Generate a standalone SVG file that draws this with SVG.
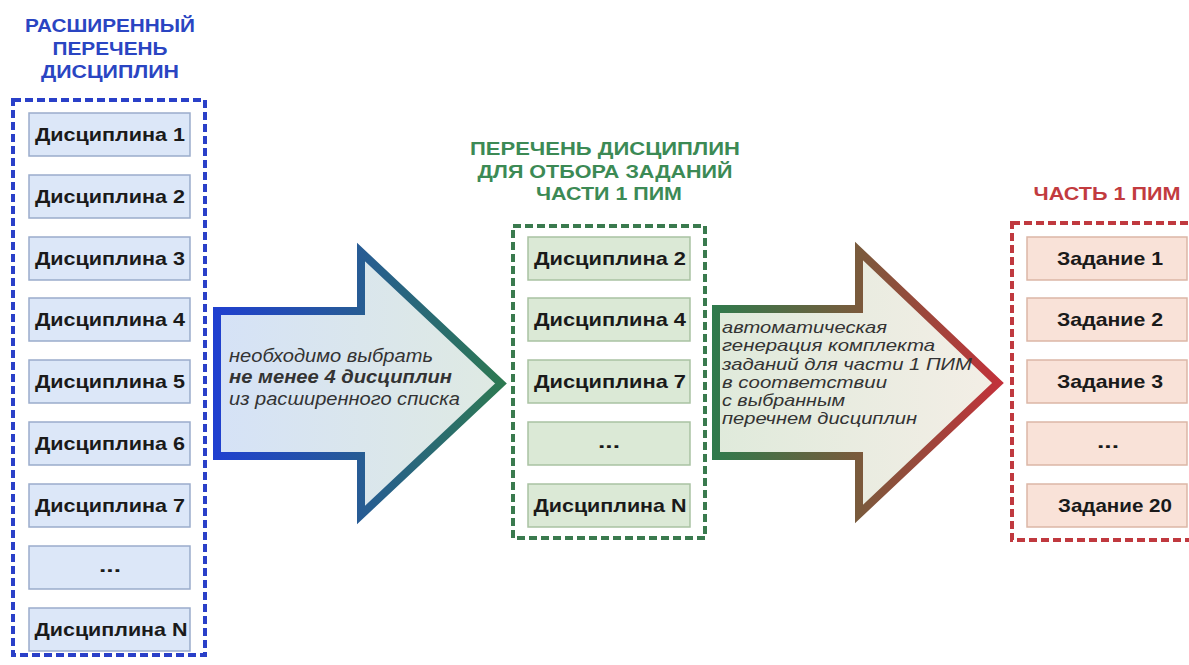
<svg xmlns="http://www.w3.org/2000/svg" width="1189" height="665" viewBox="0 0 1189 665">
<defs>
<linearGradient id="s1" gradientUnits="userSpaceOnUse" x1="213" y1="0" x2="508" y2="0">
<stop offset="0" stop-color="#1f3fd0"/><stop offset="0.5" stop-color="#275c94"/><stop offset="1" stop-color="#2d7a4f"/>
</linearGradient>
<linearGradient id="f1" gradientUnits="userSpaceOnUse" x1="213" y1="0" x2="508" y2="0">
<stop offset="0" stop-color="#d5e2f7"/><stop offset="1" stop-color="#dfeae2"/>
</linearGradient>
<linearGradient id="s2" gradientUnits="userSpaceOnUse" x1="712" y1="0" x2="1005" y2="0">
<stop offset="0" stop-color="#2e7a4c"/><stop offset="0.5" stop-color="#7a5a3c"/><stop offset="1" stop-color="#c4303a"/>
</linearGradient>
<linearGradient id="f2" gradientUnits="userSpaceOnUse" x1="712" y1="0" x2="1005" y2="0">
<stop offset="0" stop-color="#dfeadb"/><stop offset="1" stop-color="#f4eee6"/>
</linearGradient>
</defs>
<style>
text{font-family:"Liberation Sans",Arial,sans-serif}
.cont{fill:none;stroke-width:4;stroke-dasharray:8 4}
.b{fill:#dce7f8;stroke:#9aaccb;stroke-width:1.5}
.g{fill:#dbe9d6;stroke:#a9c2a2;stroke-width:1.5}
.r{fill:#f9e2d8;stroke:#dbb6a6;stroke-width:1.5}
.lbl{font-size:19px;font-weight:bold;fill:#1a1a1a;text-anchor:middle}
.ttl{font-size:18px;font-weight:bold;text-anchor:middle}
.it{font-size:18px;font-style:italic;fill:#333}
.it2{font-size:17px;font-style:italic;fill:#333}
</style>

<g id="title-left">
<text class="ttl" fill="#2a45c2" x="110" y="32" textLength="170" lengthAdjust="spacingAndGlyphs">РАСШИРЕННЫЙ</text>
<text class="ttl" fill="#2a45c2" x="110" y="55" textLength="115" lengthAdjust="spacingAndGlyphs">ПЕРЕЧЕНЬ</text>
<text class="ttl" fill="#2a45c2" x="110" y="78" textLength="138" lengthAdjust="spacingAndGlyphs">ДИСЦИПЛИН</text>
</g>
<g id="title-mid">
<text class="ttl" fill="#3c8a55" x="605" y="155" textLength="270" lengthAdjust="spacingAndGlyphs">ПЕРЕЧЕНЬ ДИСЦИПЛИН</text>
<text class="ttl" fill="#3c8a55" x="605" y="178" textLength="255" lengthAdjust="spacingAndGlyphs">ДЛЯ ОТБОРА ЗАДАНИЙ</text>
<text class="ttl" fill="#3c8a55" x="609" y="200" textLength="146" lengthAdjust="spacingAndGlyphs">ЧАСТИ 1 ПИМ</text>
</g>
<g id="title-right">
<text class="ttl" fill="#c23b3f" x="1107" y="200" textLength="147" lengthAdjust="spacingAndGlyphs">ЧАСТЬ 1 ПИМ</text>
</g>

<g id="connectors">
<g id="arrow1">
<polygon points="217,311 361,311 361,252 501,383.5 361,515 361,456 217,456" fill="url(#f1)" stroke="url(#s1)" stroke-width="8" stroke-linejoin="miter"/>
<text class="it" x="229" y="362" textLength="204" lengthAdjust="spacingAndGlyphs">необходимо выбрать</text>
<text class="it" font-weight="bold" fill="#222" x="229" y="383" textLength="223" lengthAdjust="spacingAndGlyphs">не менее 4 дисциплин</text>
<text class="it" x="229" y="405" textLength="231" lengthAdjust="spacingAndGlyphs">из расширенного списка</text>
</g>
<g id="arrow2">
<polygon points="716,309 859,309 859,251 998,383 859,514 859,456 716,456" fill="url(#f2)" stroke="url(#s2)" stroke-width="8" stroke-linejoin="miter"/>
<text class="it2" x="722" y="333" textLength="165" lengthAdjust="spacingAndGlyphs">автоматическая</text>
<text class="it2" x="722" y="351" textLength="213" lengthAdjust="spacingAndGlyphs">генерация комплекта</text>
<text class="it2" x="722" y="370" textLength="250" lengthAdjust="spacingAndGlyphs">заданий для части 1 ПИМ</text>
<text class="it2" x="722" y="388" textLength="165" lengthAdjust="spacingAndGlyphs">в соответствии</text>
<text class="it2" x="722" y="406" textLength="123" lengthAdjust="spacingAndGlyphs">с выбранным</text>
<text class="it2" x="722" y="424" textLength="195" lengthAdjust="spacingAndGlyphs">перечнем дисциплин</text>
</g>
</g>

<g id="list-left">
<rect class="cont" stroke="#2a40c8" x="13" y="100" width="192" height="555"/>
<g id="l1"><rect class="b" x="29" y="113" width="161" height="43"/><text class="lbl" x="110" y="141" textLength="150" lengthAdjust="spacingAndGlyphs">Дисциплина 1</text></g>
<g id="l2"><rect class="b" x="29" y="175" width="161" height="43"/><text class="lbl" x="110" y="203" textLength="150" lengthAdjust="spacingAndGlyphs">Дисциплина 2</text></g>
<g id="l3"><rect class="b" x="29" y="237" width="161" height="43"/><text class="lbl" x="110" y="265" textLength="150" lengthAdjust="spacingAndGlyphs">Дисциплина 3</text></g>
<g id="l4"><rect class="b" x="29" y="298" width="161" height="43"/><text class="lbl" x="110" y="326" textLength="150" lengthAdjust="spacingAndGlyphs">Дисциплина 4</text></g>
<g id="l5"><rect class="b" x="29" y="360" width="161" height="43"/><text class="lbl" x="110" y="388" textLength="150" lengthAdjust="spacingAndGlyphs">Дисциплина 5</text></g>
<g id="l6"><rect class="b" x="29" y="422" width="161" height="43"/><text class="lbl" x="110" y="450" textLength="150" lengthAdjust="spacingAndGlyphs">Дисциплина 6</text></g>
<g id="l7"><rect class="b" x="29" y="484" width="161" height="43"/><text class="lbl" x="110" y="512" textLength="150" lengthAdjust="spacingAndGlyphs">Дисциплина 7</text></g>
<g id="l8"><rect class="b" x="29" y="546" width="161" height="43"/><text class="lbl" x="110" y="572" textLength="22" lengthAdjust="spacingAndGlyphs">...</text></g>
<g id="l9"><rect class="b" x="29" y="608" width="161" height="43"/><text class="lbl" x="111" y="636" textLength="153" lengthAdjust="spacingAndGlyphs">Дисциплина N</text></g>
</g>

<g id="list-mid">
<rect class="cont" stroke="#3a7a4e" x="513" y="226" width="192" height="312"/>
<g id="m1"><rect class="g" x="528" y="237" width="162" height="43"/><text class="lbl" x="610" y="265" textLength="152" lengthAdjust="spacingAndGlyphs">Дисциплина 2</text></g>
<g id="m2"><rect class="g" x="528" y="298" width="162" height="43"/><text class="lbl" x="610" y="326" textLength="152" lengthAdjust="spacingAndGlyphs">Дисциплина 4</text></g>
<g id="m3"><rect class="g" x="528" y="360" width="162" height="43"/><text class="lbl" x="610" y="388" textLength="152" lengthAdjust="spacingAndGlyphs">Дисциплина 7</text></g>
<g id="m4"><rect class="g" x="528" y="422" width="162" height="43"/><text class="lbl" x="609" y="448" textLength="22" lengthAdjust="spacingAndGlyphs">...</text></g>
<g id="m5"><rect class="g" x="528" y="484" width="162" height="43"/><text class="lbl" x="610" y="512" textLength="153" lengthAdjust="spacingAndGlyphs">Дисциплина N</text></g>
</g>

<g id="list-right">
<rect class="cont" stroke="#c0393f" x="1012" y="223" width="190" height="317"/>
<g id="r1"><rect class="r" x="1027" y="237" width="160" height="43"/><text class="lbl" x="1110" y="265" textLength="106" lengthAdjust="spacingAndGlyphs">Задание 1</text></g>
<g id="r2"><rect class="r" x="1027" y="298" width="160" height="43"/><text class="lbl" x="1110" y="326" textLength="106" lengthAdjust="spacingAndGlyphs">Задание 2</text></g>
<g id="r3"><rect class="r" x="1027" y="360" width="160" height="43"/><text class="lbl" x="1110" y="388" textLength="106" lengthAdjust="spacingAndGlyphs">Задание 3</text></g>
<g id="r4"><rect class="r" x="1027" y="422" width="160" height="43"/><text class="lbl" x="1108" y="448" textLength="22" lengthAdjust="spacingAndGlyphs">...</text></g>
<g id="r5"><rect class="r" x="1027" y="484" width="160" height="43"/><text class="lbl" x="1115" y="512" textLength="114" lengthAdjust="spacingAndGlyphs">Задание 20</text></g>
</g>
</svg>
